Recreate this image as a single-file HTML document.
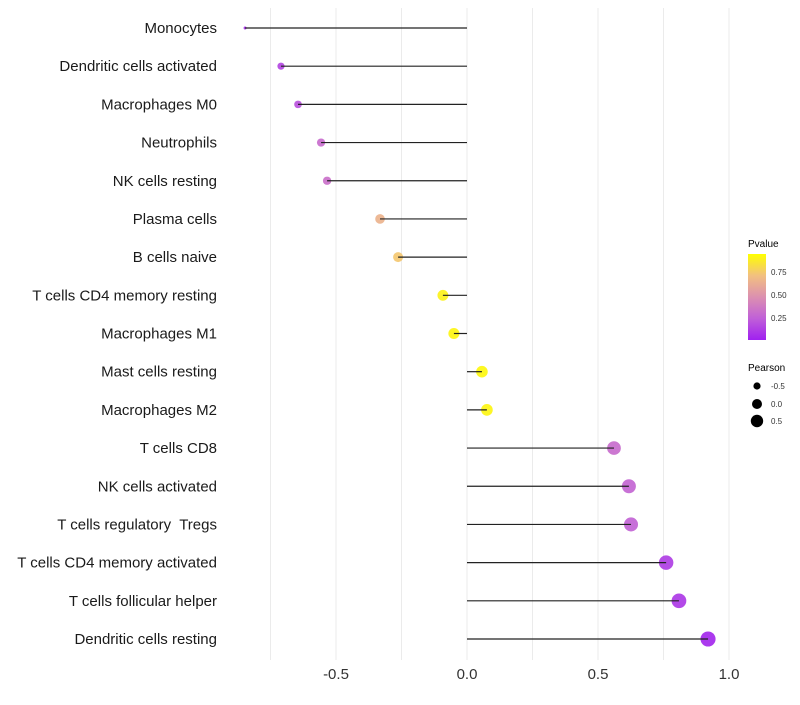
<!DOCTYPE html>
<html><head><meta charset="utf-8"><style>
body{margin:0;background:#fff;font-family:"Liberation Sans",sans-serif}
text{white-space:pre}
</style></head><body>
<svg id="chart" width="800" height="700" xmlns="http://www.w3.org/2000/svg">
<defs><linearGradient id="pg" x1="0" y1="1" x2="0" y2="0">
<stop offset="0" stop-color="#A020F0"/><stop offset="0.25" stop-color="#C060D8"/><stop offset="0.5" stop-color="#DC90B0"/><stop offset="0.75" stop-color="#F2C080"/><stop offset="1" stop-color="#FFFF00"/></linearGradient></defs>
<g id="grid"></g><g id="marks"></g><g id="labels"></g>
<g>
<text x="748" y="247" font-size="10" fill="#000">Pvalue</text>
<rect x="748" y="254" width="18" height="86" fill="url(#pg)"/>
<text x="771" y="275" font-size="8" fill="#333">0.75</text>
<text x="771" y="298" font-size="8" fill="#333">0.50</text>
<text x="771" y="321" font-size="8" fill="#333">0.25</text>
</g>
<g>
<text x="748" y="371" font-size="10" fill="#000">Pearson</text>
<circle cx="757" cy="386" r="3.6" fill="#000"/><text x="771" y="389" font-size="8" fill="#333">-0.5</text>
<circle cx="757" cy="404" r="5" fill="#000"/><text x="771" y="407" font-size="8" fill="#333">0.0</text>
<circle cx="757" cy="421" r="6.2" fill="#000"/><text x="771" y="424" font-size="8" fill="#333">0.5</text>
</g>
</svg>
<script>
const categories=["Monocytes","Dendritic cells activated","Macrophages M0","Neutrophils","NK cells resting","Plasma cells","B cells naive","T cells CD4 memory resting","Macrophages M1","Mast cells resting","Macrophages M2","T cells CD8","NK cells activated","T cells regulatory  Tregs","T cells CD4 memory activated","T cells follicular helper","Dendritic cells resting"];
const pearson=[-0.847,-0.71,-0.645,-0.557,-0.534,-0.332,-0.263,-0.092,-0.05,0.057,0.076,0.561,0.618,0.626,0.76,0.809,0.92];
const pvalues=[0.05,0.15,0.2,0.32,0.34,0.68,0.78,0.95,0.96,0.97,0.96,0.32,0.28,0.27,0.12,0.1,0.03];
const xTicks=[-0.5,0,0.5,1.0];
const xTickLabels=["-0.5","0.0","0.5","1.0"];
const gridVals=[-0.75,-0.5,-0.25,0,0.25,0.5,0.75,1.0];
</script>
<script>
const NS="http://www.w3.org/2000/svg";
const x=v=>467+v*262;
const y=i=>28+i*(611/(categories.length-1));
const stops=[[0,[160,32,240]],[0.25,[192,96,216]],[0.5,[220,144,176]],[0.75,[242,192,128]],[1,[255,255,0]]];
function col(p){for(let i=1;i<stops.length;i++){if(p<=stops[i][0]){const a=stops[i-1],b=stops[i],t=(p-a[0])/(b[0]-a[0]);return "rgb("+a[1].map((c,k)=>Math.round(c+(b[1][k]-c)*t)).join(",")+")";}}return "rgb(255,255,0)";}
const mn=Math.min(...pearson),mx=Math.max(...pearson);
const rad=v=>{const f=(v-mn)/(mx-mn||1);return f<0.02?1.5:Math.sqrt(9+f*48);};
function mk(t,a,parent){const e=document.createElementNS(NS,t);for(const k in a)e.setAttribute(k,a[k]);parent.appendChild(e);return e;}
const G=document.getElementById("grid"),M=document.getElementById("marks"),L=document.getElementById("labels");
gridVals.forEach(v=>{const e=mk("line",{x1:x(v),x2:x(v),y1:8,y2:660,stroke:"#ebebeb","stroke-width":1},G);

});
xTicks.forEach((v,i)=>{const t=mk("text",{x:x(v),y:679,"font-size":15,fill:"#333","text-anchor":"middle"},L);t.textContent=xTickLabels[i];

});
categories.forEach((c,i)=>{
const t=mk("text",{x:217,y:y(i)+5,"font-size":15,fill:"#1a1a1a","text-anchor":"end"},L);t.textContent=c;


const p=mk("circle",{cx:x(pearson[i]),cy:y(i),r:rad(pearson[i]),fill:col(pvalues[i]),"fill-opacity":0.92},M);


const l=mk("line",{x1:x(0),x2:x(pearson[i]),y1:y(i),y2:y(i),stroke:"#222","stroke-width":1.2},M);


});
</script>
</body></html>
